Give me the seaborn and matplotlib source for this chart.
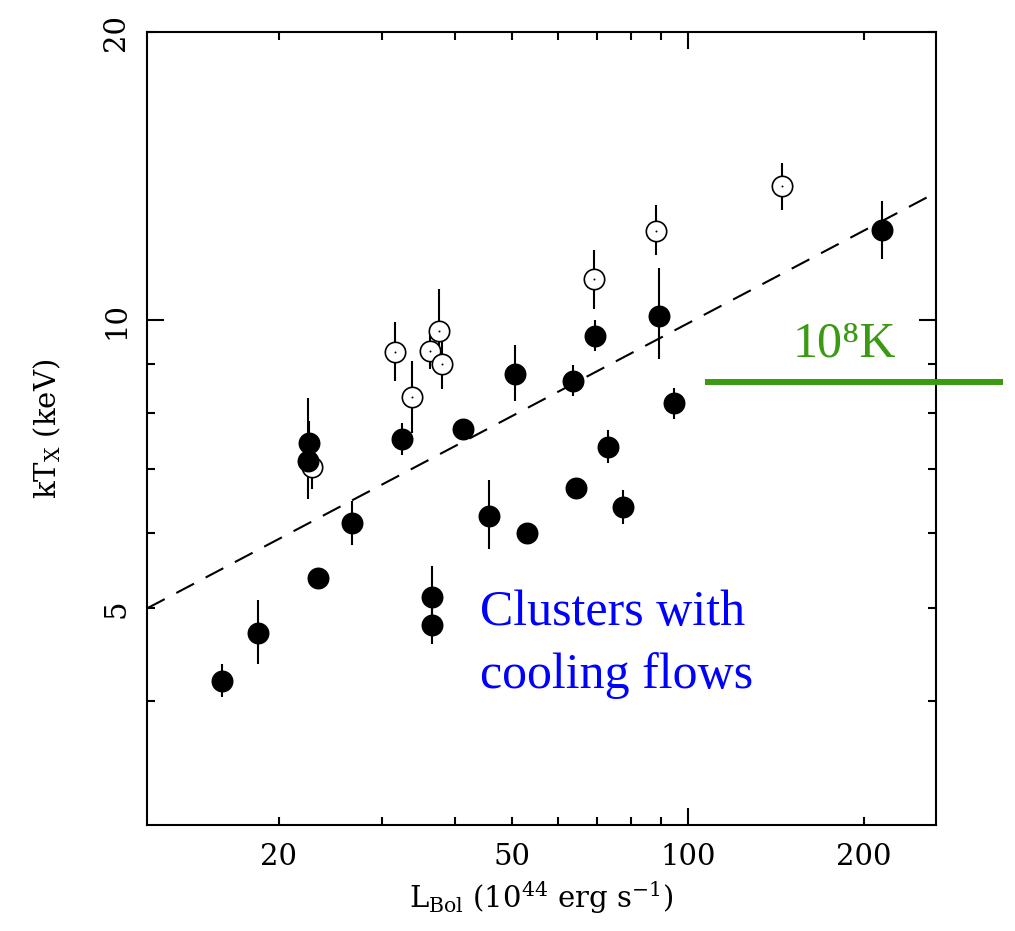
import numpy as np
import pandas as pd
import matplotlib
matplotlib.use("Agg")
import matplotlib.pyplot as plt
import seaborn as sns
from matplotlib.ticker import FixedLocator, FuncFormatter

# ---------------- data ----------------
# clusters with cooling flows (filled circles)
filled_L = [16.0, 18.4, 23.3, 26.7, 22.5, 22.4, 32.5, 41.2, 50.6, 63.7, 69.3,
            89.3, 94.7, 73.1, 64.3, 77.5, 45.7, 53.1, 36.5, 36.5, 214.6]
filled_kT = [4.20, 4.71, 5.38, 6.14, 7.45, 7.12, 7.51, 7.70, 8.79, 8.64, 9.63,
             10.1, 8.19, 7.38, 6.68, 6.38, 6.25, 6.00, 5.14, 4.81, 12.43]
filled_lo = [0.16, 0.34, 0.12, 0.32, 0.40, 0.61, 0.28, 0.12, 0.55, 0.31, 0.34,
             0.99, 0.31, 0.29, 0.12, 0.25, 0.48, 0.12, 0.30, 0.22, 0.84]
filled_hi = [0.17, 0.39, 0.12, 0.34, 0.39, 1.17, 0.30, 0.12, 0.62, 0.34, 0.37,
             1.25, 0.31, 0.30, 0.12, 0.27, 0.56, 0.12, 0.40, 0.30, 0.90]

# clusters without cooling flows (open circles)
open_L = [31.6, 33.7, 36.3, 37.6, 38.0, 69.1, 88.2, 144.9, 22.8]
open_kT = [9.27, 8.31, 9.28, 9.74, 9.00, 11.03, 12.40, 13.82, 7.02]
open_lo = [0.62, 0.69, 0.39, 0.45, 0.52, 0.75, 0.71, 0.78, 0.35]
open_hi = [0.69, 0.76, 0.41, 1.03, 0.57, 0.80, 0.78, 0.77, 0.38]

# dashed relation (end points)
fit_L = [11.9, 266.0]
fit_kT = [5.0, 13.6]

# 10^8 K marker line
green_L = [107.0, 345.0]
green_kT = 8.62

x_labels = {20: "20", 50: "50", 100: "100", 200: "200"}
y_labels = {5: "5", 10: "10", 20: "20"}

# ---------------- style ----------------
sns.set_theme(style="ticks")
plt.rcParams["font.family"] = ["DejaVu Serif"]
plt.rcParams["mathtext.fontset"] = "dejavuserif"
plt.rcParams["text.color"] = "black"
plt.rcParams["axes.labelcolor"] = "black"

W, H = 1015, 931
fig = plt.figure(figsize=(W / 100, H / 100), dpi=100)
L0, R0, T0, B0 = 147, 936, 32, 825
ax = fig.add_axes([L0 / W, 1 - B0 / H, (R0 - L0) / W, (B0 - T0) / H])
ax.set_xscale("log")
ax.set_yscale("log")
ax.set_xlim(11.9, 265.5)
ax.set_ylim(2.97, 20.0)

# error bars
ax.errorbar(filled_L, filled_kT, yerr=[filled_lo, filled_hi], fmt="none",
            ecolor="black", elinewidth=1.5, capsize=0, zorder=2)
ax.errorbar(open_L, open_kT, yerr=[open_lo, open_hi], fmt="none",
            ecolor="black", elinewidth=1.5, capsize=0, zorder=2)

df_open = pd.DataFrame({"L": open_L, "kT": open_kT})
df_fill = pd.DataFrame({"L": filled_L, "kT": filled_kT})

sns.scatterplot(data=df_open, x="L", y="kT", ax=ax, marker="o", s=215,
                facecolor="white", edgecolor="black", linewidth=1.2,
                zorder=3, legend=False)
sns.scatterplot(data=df_open, x="L", y="kT", ax=ax, marker="o", s=2,
                color="black", linewidth=0, zorder=3.5, legend=False)
sns.scatterplot(data=df_fill, x="L", y="kT", ax=ax, marker="o", s=250,
                color="black", edgecolor="black", linewidth=0,
                zorder=4, legend=False)

sns.lineplot(x=fit_L, y=fit_kT, ax=ax, color="black", lw=1.5,
             linestyle=(0, (9.6, 6.3)), zorder=1.5)

ax.plot(green_L, [green_kT, green_kT], color="#3b9a14", lw=4.3,
        clip_on=False, solid_capstyle="butt", zorder=5)

# ticks
ax.xaxis.set_major_locator(FixedLocator([10, 100]))
ax.xaxis.set_minor_locator(FixedLocator([20, 30, 40, 50, 60, 70, 80, 90, 200]))
ax.yaxis.set_major_locator(FixedLocator([10]))
ax.yaxis.set_minor_locator(FixedLocator([4, 5, 6, 7, 8, 9, 20]))

fx = FuncFormatter(lambda v, p: x_labels.get(int(round(v)), ""))
fy = FuncFormatter(lambda v, p: y_labels.get(int(round(v)), ""))
ax.xaxis.set_major_formatter(fx)
ax.xaxis.set_minor_formatter(fx)
ax.yaxis.set_major_formatter(fy)
ax.yaxis.set_minor_formatter(fy)

ax.tick_params(which="both", direction="in", top=True, right=True,
               width=1.5, color="black", labelsize=21, labelcolor="black")
ax.tick_params(which="major", length=12)
ax.tick_params(which="minor", length=6)
ax.tick_params(axis="x", which="both", pad=13)
ax.tick_params(axis="y", which="both", pad=12, labelrotation=90)
for lbl in ax.get_yticklabels(which="both"):
    lbl.set_va("center")

for s in ax.spines.values():
    s.set_linewidth(1.5)
    s.set_color("black")

ax.set_xlabel(r"L$_{\mathrm{Bol}}$ (10$^{44}$ erg s$^{-1}$)", fontsize=21,
              labelpad=6, color="black")
ax.set_ylabel(r"kT$_{\mathrm{X}}$ (keV)", fontsize=21, labelpad=28,
              color="black")

# annotations
fig.text(480 / W, 1 - 625 / H, "Clusters with", color="#0000ff", fontsize=36,
         family=["Liberation Serif", "DejaVu Serif"], ha="left", va="baseline")
fig.text(480 / W, 1 - 688 / H, "cooling flows", color="#0000ff", fontsize=36,
         family=["Liberation Serif", "DejaVu Serif"], ha="left", va="baseline")
fig.text(793 / W, 1 - 356 / H, "10\u2078K", color="#3b9a14", fontsize=36,
         family=["Liberation Serif", "DejaVu Serif"], ha="left", va="baseline")

fig.savefig("out.png", dpi=100, facecolor="white")
